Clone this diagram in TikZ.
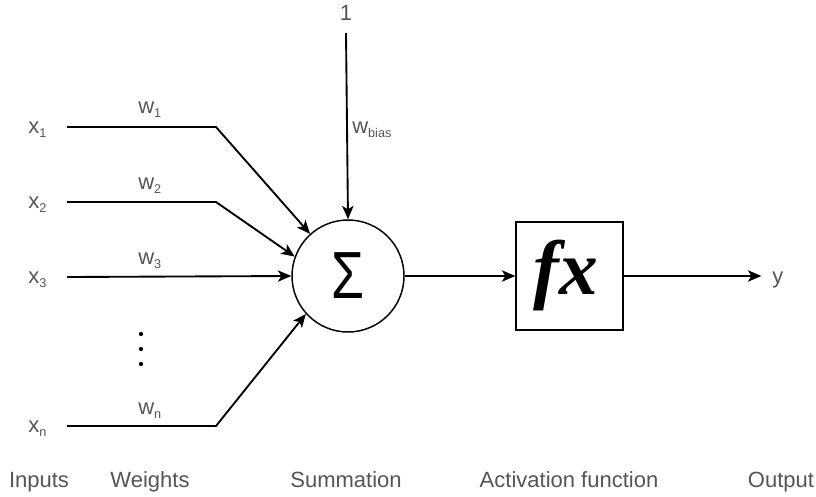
\documentclass[tikz,border=0pt]{standalone}
\usepackage{fontspec}
\setmainfont{Liberation Sans}
\newfontfamily\fxfont{Liberation Serif}
\usetikzlibrary{arrows.meta}
\definecolor{labelgray}{HTML}{555555}
\newcommand\subidx[1]{\raisebox{-3pt}{\fontsize{9.5}{10}\selectfont #1}}
\tikzset{
  lbl/.style={text=labelgray, font=\fontsize{16.5}{18}\selectfont, inner sep=0pt},
  wire/.style={line width=1.4pt, draw=black},
  arr/.style={wire, -{Stealth[length=10pt, width=8.5pt, inset=2.5pt]}},
  sumnode/.style={circle, draw, line width=1.1pt, minimum size=84pt, inner sep=0pt},
  actbox/.style={rectangle, draw, line width=1.3pt, minimum width=80pt, minimum height=81pt, inner sep=0pt},
  dotmark/.style={circle, fill=black, inner sep=0pt, minimum size=3.2pt}
}
\begin{document}
\begin{tikzpicture}[x=0.75pt, y=-0.75pt]
\useasboundingbox (0,0) rectangle (816,496);

% summation unit and activation box
\node[sumnode] (sum) at (348,276) {};
\node[xscale=0.8, font=\fontsize{50}{50}\selectfont, inner sep=0pt] (sigma) at (348,276) {Σ};
\node[actbox] (act) at (569.5,276) {};
\node[inner sep=0pt] (fx) at (566,276) {\fxfont\fontsize{58}{58}\selectfont\textbf{\textit{fx}}};

% inputs
\node[lbl, anchor=base west] (x1) at (28,133) {x\subidx{1}};
\node[lbl, anchor=base west] (x2) at (28,208) {x\subidx{2}};
\node[lbl, anchor=base west] (x3) at (28,283) {x\subidx{3}};
\node[lbl, anchor=base west] (xn) at (28,432) {x\subidx{n}};

% weights
\node[lbl, anchor=base west] (w1) at (138,113) {w\subidx{1}};
\node[lbl, anchor=base west] (w2) at (138,189) {w\subidx{2}};
\node[lbl, anchor=base west] (w3) at (138,264) {w\subidx{3}};
\node[lbl, anchor=base west] (wn) at (138,414) {w\subidx{n}};

% wire corners
\coordinate (s1) at (67,127);  \coordinate (b1) at (216,127);
\coordinate (s2) at (67,202);  \coordinate (b2) at (216,202);
\coordinate (s3) at (67,277);
\coordinate (sn) at (67,426);  \coordinate (bn) at (216,426);

\draw[arr] (s1) -- (b1) -- (sum.132);
\draw[arr] (s2) -- (b2) -- (sum.160);
\draw[arr] (s3) -- (sum.180);
\draw[arr] (sn) -- (bn) -- (sum.222);

% vertical ellipsis
\node[dotmark] (d1) at (141,334) {};
\node[dotmark] (d2) at (141,349) {};
\node[dotmark] (d3) at (141,364) {};

% bias
\node[lbl, anchor=base] (one) at (346,20) {1};
\coordinate (btop) at (346,33);
\draw[arr] (btop) -- (sum.north);
\node[lbl, anchor=base west] (wb) at (352,133) {w\subidx{bias}};

% summation to activation to output
\draw[arr] (sum.east) -- (act.west);
\node[lbl, anchor=base west] (y) at (772,283) {y};
\draw[arr] (act.east) -- ([xshift=-8pt]y.west |- act.east);

% column captions
\node[lbl, anchor=base] (capin)  at (39,487)  {Inputs};
\node[lbl, anchor=base] (capw)   at (150,487) {Weights};
\node[lbl, anchor=base] (caps)   at (346,487) {Summation};
\node[lbl, anchor=base] (capa)   at (569,487) {Activation function};
\node[lbl, anchor=base] (capo)   at (781,487) {Output};
\end{tikzpicture}
\end{document}
